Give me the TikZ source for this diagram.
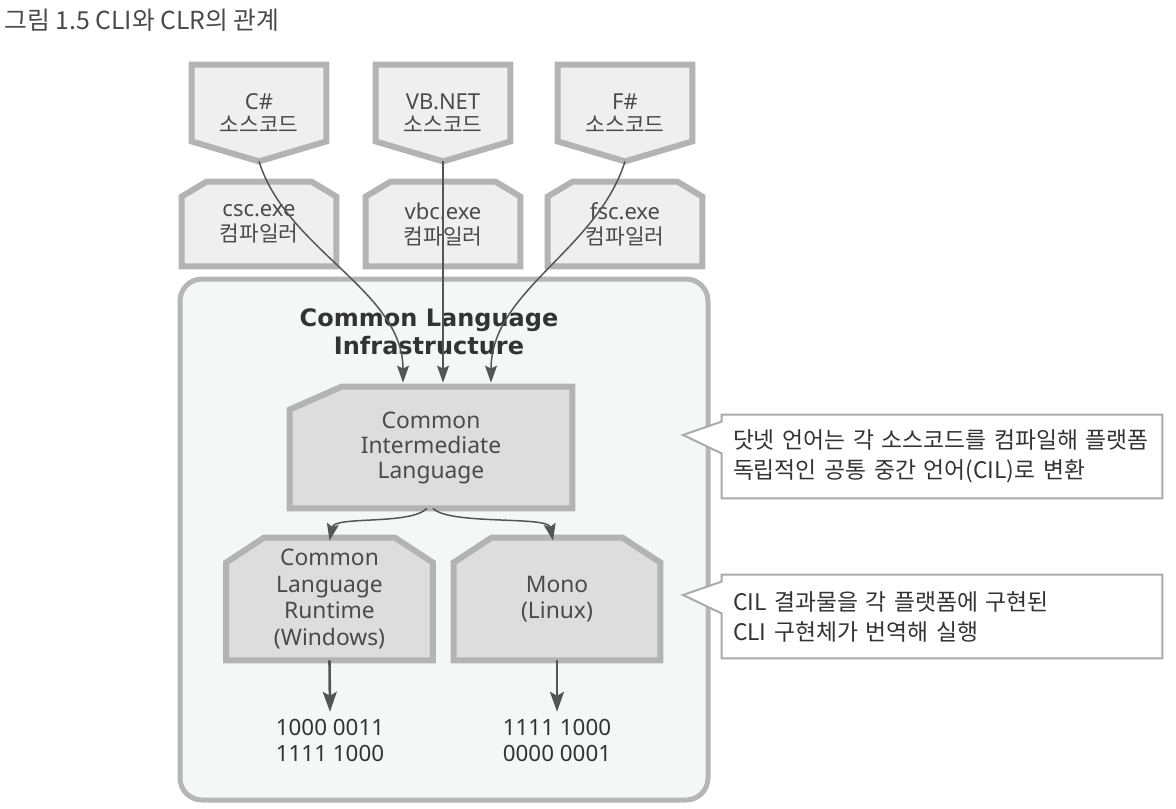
\documentclass[tikz,border=0pt]{standalone}
\usepackage{fontspec}
\setmainfont{Noto Sans}
\newfontfamily\krfont{Noto Sans CJK KR}
\newfontfamily\headfont{DejaVu Sans}
\usepackage{xcolor}
\usetikzlibrary{arrows.meta}

\definecolor{boxline}{HTML}{B3B3B3}
\definecolor{srcfill}{HTML}{EFEFEF}
\definecolor{runfill}{HTML}{DDDDDD}
\definecolor{infrafill}{HTML}{F5F7F7}
\definecolor{infraline}{HTML}{B6B6B6}
\definecolor{noteline}{HTML}{AAAAAA}
\definecolor{txtgray}{HTML}{4A4A4A}
\definecolor{darktxt}{HTML}{333333}
\definecolor{arrowgray}{HTML}{555555}

\pgfdeclarelayer{shapes}
\pgfsetlayers{shapes,main}

\newcommand{\kr}[1]{{\krfont\fontsize{10.7}{12.5}\selectfont #1}}
% pentagon pointing down
\newcommand{\srcshape}[1]{\draw[srcline] (#1.north west) -- (#1.north east) -- ([yshift=10pt]#1.south east) -- (#1.south) -- ([yshift=10pt]#1.south west) -- cycle;}
% both top corners cut
\newcommand{\chamtop}[4]{\draw[#1] (#2.south west) -- ([yshift=-#4]#2.north west) -- ([xshift=#3]#2.north west) -- ([xshift=-#3]#2.north east) -- ([yshift=-#4]#2.north east) -- (#2.south east) -- cycle;}
% callout with pointer on the left
\newcommand{\noteshape}[2]{\draw[noteframe] (#1.north west) -- (#1.north east) -- (#1.south east) -- (#1.south west) -- ([yshift=22.5pt]#1.south west) -- (#2) -- ([yshift=-3.5pt]#1.north west) -- cycle;}

\begin{document}
\begin{tikzpicture}[x=0.5pt, y=-0.5pt, line join=miter,
    lbl/.style={text=txtgray, align=center, inner sep=0pt},
    srcbox/.style={lbl, minimum width=67pt, minimum height=48pt, font=\fontsize{11}{11.5}\selectfont},
    compbox/.style={lbl, minimum width=77pt, minimum height=42pt, font=\fontsize{11}{12.5}\selectfont},
    cilbox/.style={lbl, minimum width=141pt, minimum height=60.5pt, font=\fontsize{11.4}{12.5}\selectfont},
    runbox/.style={lbl, minimum width=103pt, minimum height=61pt, font=\fontsize{11.4}{13.3}\selectfont},
    bits/.style={lbl, text=darktxt, inner sep=3.3pt, font=\fontsize{11.2}{13}\selectfont},
    note/.style={text=darktxt, align=left, text width=209pt, inner xsep=5.5pt, inner ysep=0pt, minimum height=41.5pt, font=\krfont\fontsize{11.4}{15}\selectfont},
    srcline/.style={draw=boxline, line width=3pt, fill=srcfill},
    runline/.style={draw=boxline, line width=3pt, fill=runfill},
    noteframe/.style={draw=noteline, line width=1pt, fill=white},
    flow/.style={draw=arrowgray, line width=0.75pt, -{Stealth[length=8.5pt,width=6pt,inset=1.5pt]}},
    bigflow/.style={draw=arrowgray, line width=1.3pt, -{Stealth[length=10pt,width=7pt,inset=2pt]}}]
  \useasboundingbox (0,0) rectangle (1176,808);

  % Nodes
  \node[anchor=west, text=txtgray, inner sep=0pt, font=\krfont\fontsize{12.4}{13}\selectfont] (figtitle) at (4,20) {그림 1.5 CLI와 CLR의 관계};

  \node[srcbox] (csharp) at (259,113) {C\#\\\kr{소스코드}};
  \node[srcbox] (vbnet) at (443,113) {VB.NET\\\kr{소스코드}};
  \node[srcbox] (fsharp) at (625,113) {F\#\\\kr{소스코드}};

  \node[compbox] (csc) at (259,224) {csc.exe\\\kr{컴파일러}};
  \node[compbox] (vbc) at (443,224) {vbc.exe\\\kr{컴파일러}};
  \node[compbox] (fsc) at (625,224) {fsc.exe\\\kr{컴파일러}};

  \node[text=darktxt, align=center, font=\headfont\bfseries\fontsize{12}{14}\selectfont] (infralabel) at (429,332) {Common Language\\Infrastructure};
  \node[cilbox] (cil) at (431,447.5) {Common\\Intermediate\\Language};
  \node[runbox] (clr) at (329.5,599) {Common\\Language\\Runtime\\(Windows)};
  \node[runbox] (mono) at (557,599) {Mono\\(Linux)};
  \node[bits] (clrbits) at (330,740) {1000 0011\\1111 1000};
  \node[bits] (monobits) at (557,740) {1111 1000\\0000 0001};

  \node[note] (note1) at (942,456.5) {닷넷 언어는 각 소스코드를 컴파일해 플랫폼\\독립적인 공통 중간 언어(CIL)로 변환};
  \node[note] (note2) at (942,616.5) {CIL 결과물을 각 플랫폼에 구현된\\CLI 구현체가 번역해 실행};
  \coordinate (note1tip) at (683,435);
  \coordinate (note2tip) at (683,595);

  % Shapes behind the labels
  \begin{pgfonlayer}{shapes}
    \node[draw=infraline, line width=2.5pt, fill=infrafill, rounded corners=11pt, minimum width=264pt, minimum height=260.5pt] (infra) at (444,539.5) {};
    \srcshape{csharp}
    \srcshape{vbnet}
    \srcshape{fsharp}
    \chamtop{srcline}{csc}{12.5pt}{7.5pt}
    \chamtop{srcline}{vbc}{12.5pt}{7.5pt}
    \chamtop{srcline}{fsc}{12.5pt}{7.5pt}
    \draw[runline] (cil.south west) -- ([yshift=-11.5pt]cil.north west) -- ([xshift=26pt]cil.north west) -- (cil.north east) -- (cil.south east) -- cycle;
    \chamtop{runline}{clr}{19pt}{12.5pt}
    \chamtop{runline}{mono}{19pt}{12.5pt}
    \noteshape{note1}{note1tip}
    \noteshape{note2}{note2tip}
  \end{pgfonlayer}

  % Arrows
  \draw[flow] (csharp.south) .. controls +(28,89) and +(0,-92) .. ([xshift=-14pt,yshift=2pt]cil.north);
  \draw[flow] (vbnet.south) -- ([xshift=6pt,yshift=2pt]cil.north);
  \draw[flow] (fsharp.south) .. controls +(-28,89) and +(0,-92) .. ([xshift=30pt,yshift=2pt]cil.north);
  \draw[flow] ([xshift=-2pt]cil.south) .. controls +(-17,17) and +(5,-25) .. ([yshift=-1.5pt]clr.north);
  \draw[flow] ([xshift=1pt]cil.south) .. controls +(17,17) and +(-5,-25) .. ([xshift=-2pt,yshift=-1.5pt]mono.north);
  \draw[bigflow] (clr.south) -- (clrbits.north);
  \draw[bigflow] (mono.south) -- (monobits.north);
\end{tikzpicture}
\end{document}
